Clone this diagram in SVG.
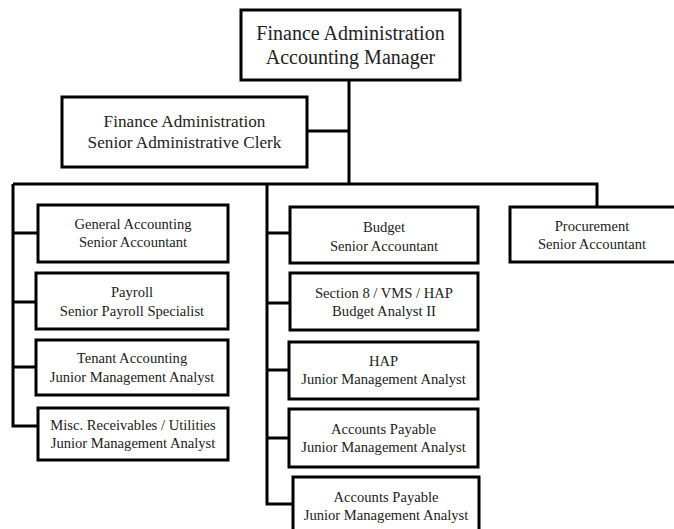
<svg xmlns="http://www.w3.org/2000/svg" width="674" height="529" viewBox="0 0 674 529">
<style>
.box{fill:#fff;stroke:#000;stroke-width:3}
.ln{fill:none;stroke:#000;stroke-width:3}
text{font-family:"Liberation Serif","Times New Roman",serif;fill:#222;text-anchor:middle}
.t1{font-size:20px}
.t2{font-size:17.2px}
.t3{font-size:14.6px}
</style>
<rect width="674" height="529" fill="#fff"/>
<g id="connectors">
<path class="ln" d="M349 80V184M307 131H349M13 184H597V207M13 184V426H38M13 233H38M13 302H36M13 367H36M267 184V504H293M267 233H290M267 303H290M267 370H289M267 438H289"/>
</g>
<g id="manager"><rect class="box" x="241" y="10" width="219" height="70"/><text class="t1" x="350.5" y="40">Finance Administration</text><text class="t1" x="350.5" y="64">Accounting Manager</text></g>
<g id="clerk"><rect class="box" x="62" y="97" width="245" height="70"/><text class="t2" x="184.5" y="127">Finance Administration</text><text class="t2" x="184.5" y="148">Senior Administrative  Clerk</text></g>
<g id="general"><rect class="box" x="38" y="205" width="190" height="57"/><text class="t3" x="133" y="229">General Accounting</text><text class="t3" x="133" y="247">Senior Accountant</text></g>
<g id="payroll"><rect class="box" x="36" y="273" width="192" height="56"/><text class="t3" x="132" y="297">Payroll</text><text class="t3" x="132" y="316">Senior Payroll Specialist</text></g>
<g id="tenant"><rect class="box" x="36" y="340" width="192" height="55"/><text class="t3" x="132" y="363">Tenant  Accounting</text><text class="t3" x="132" y="382">Junior Management Analyst</text></g>
<g id="misc"><rect class="box" x="38" y="408" width="190" height="52"/><text class="t3" x="133" y="430">Misc. Receivables / Utilities</text><text class="t3" x="133" y="448">Junior Management Analyst</text></g>
<g id="budget"><rect class="box" x="290" y="207" width="188" height="56"/><text class="t3" x="384" y="232">Budget</text><text class="t3" x="384" y="251">Senior Accountant</text></g>
<g id="section8"><rect class="box" x="290" y="273" width="188" height="57"/><text class="t3" x="384" y="298">Section 8 / VMS  / HAP</text><text class="t3" x="384" y="316">Budget Analyst II</text></g>
<g id="hap"><rect class="box" x="289" y="342" width="189" height="57"/><text class="t3" x="383.5" y="366">HAP</text><text class="t3" x="383.5" y="384">Junior Management Analyst</text></g>
<g id="ap1"><rect class="box" x="289" y="409" width="189" height="58"/><text class="t3" x="383.5" y="434">Accounts Payable</text><text class="t3" x="383.5" y="452">Junior Management Analyst</text></g>
<g id="ap2"><rect class="box" x="293" y="477" width="186" height="60"/><text class="t3" x="386" y="502">Accounts Payable</text><text class="t3" x="386" y="520">Junior Management Analyst</text></g>
<g id="procurement"><rect class="box" x="510" y="207" width="166" height="55"/><text class="t3" x="592" y="231">Procurement</text><text class="t3" x="592" y="249">Senior Accountant</text></g>
</svg>
